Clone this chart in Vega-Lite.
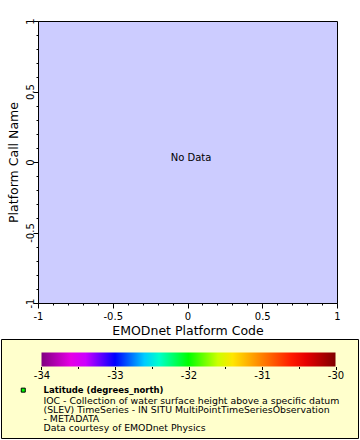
{
  "$schema": "https://vega.github.io/schema/vega-lite/v6.json",
  "background": "white",
  "padding": {"left": 0, "top": 17, "right": 0, "bottom": 0},
  "spacing": 1,
  "config": {
    "font": "DejaVu Sans",
    "view": {"stroke": "black", "strokeWidth": 1},
    "axis": {"labelColor": "black", "titleColor": "black", "tickColor": "black", "domainColor": "black", "grid": false, "titleFontWeight": "normal", "labelFont": "DejaVu Sans", "titleFont": "DejaVu Sans"}
  },
  "vconcat": [
    {
      "spacing": 1,
      "hconcat": [
        {
          "width": 4,
          "height": 10,
          "view": {"stroke": "transparent"},
          "data": {"values": [{"blank": ""}]},
          "mark": {"type": "text"},
          "encoding": {"text": {"field": "blank"}}
        },
        {
          "width": 299,
          "height": 282,
          "view": {"fill": "#ccccff", "stroke": "black"},
          "data": {"values": [{"code": 0, "name": 0, "note": "No Data"}]},
          "mark": {"type": "text", "fontSize": 10, "color": "black", "dx": 3.5, "dy": -4.5},
          "encoding": {
            "x": {
              "field": "code", "type": "quantitative",
              "scale": {"domain": [-1, 1], "nice": false, "zero": false},
              "axis": {
                "title": "EMODnet Platform Code", "titleFontSize": 12.5, "titlePadding": 3,
                "values": [-1, -0.9, -0.8, -0.7, -0.6, -0.5, -0.4, -0.3, -0.2, -0.1, 0, 0.1, 0.2, 0.3, 0.4, 0.5, 0.6, 0.7, 0.8, 0.9, 1],
                "labelExpr": "abs(datum.value*2 - round(datum.value*2)) < 0.001 ? toString(datum.value) : ''",
                "labelFontSize": 10, "labelPadding": 3, "labelFlush": false, "labelOverlap": false,
                "tickSize": {"condition": {"test": "abs(datum.value*2 - round(datum.value*2)) < 0.001", "value": 5}, "value": 2}
              }
            },
            "y": {
              "field": "name", "type": "quantitative",
              "scale": {"domain": [-1, 1], "nice": false, "zero": false},
              "axis": {
                "title": "Platform Call Name", "titleFontSize": 12.5, "titlePadding": 4.2,
                "values": [-1, -0.9, -0.8, -0.7, -0.6, -0.5, -0.4, -0.3, -0.2, -0.1, 0, 0.1, 0.2, 0.3, 0.4, 0.5, 0.6, 0.7, 0.8, 0.9, 1],
                "labelExpr": "abs(datum.value*2 - round(datum.value*2)) < 0.001 ? toString(datum.value) : ''",
                "labelAngle": -90, "labelAlign": "center", "labelBaseline": "alphabetic",
                "labelFontSize": 10, "labelPadding": 0, "labelFlush": false, "labelOverlap": false,
                "tickSize": {"condition": {"test": "abs(datum.value*2 - round(datum.value*2)) < 0.001", "value": 5}, "value": 2}
              }
            },
            "text": {"field": "note"}
          }
        }
      ]
    },
    {
      "width": 357,
      "height": 99,
      "view": {"fill": "#ffffcc", "stroke": "black"},
      "layer": [
        {
          "data": {"values": [{"lat": -34}, {"lat": -30}]},
          "mark": {"type": "point", "opacity": 0},
          "encoding": {
            "x": {
              "field": "lat", "type": "quantitative",
              "scale": {"domain": [-34.551, -29.694], "nice": false, "zero": false},
              "axis": {
                "orient": "bottom", "offset": -71.5, "domain": false, "title": null,
                "values": [-34, -33.5, -33, -32.5, -32, -31.5, -31, -30.5, -30],
                "labelExpr": "datum.value == round(datum.value) ? toString(datum.value) : ''",
                "labelFontSize": 10, "labelPadding": 1, "labelFlush": false, "labelOverlap": false,
                "tickSize": {"condition": {"test": "datum.value == round(datum.value)", "value": 3}, "value": 2}
              }
            },
            "color": {
              "field": "lat", "type": "quantitative",
              "scale": {
                "domain": [-34, -33.5, -33, -32.5, -32, -31.5, -31, -30.5, -30],
                "range": ["#800080", "#ff00ff", "#0000ff", "#00ffff", "#00ff00", "#ffff00", "#ff8000", "#ff0000", "#800000"],
                "interpolate": "rgb"
              },
              "legend": {
                "orient": "none", "legendX": 40.5, "legendY": 13.5, "direction": "horizontal",
                "gradientLength": 294, "gradientThickness": 14, "gradientStrokeWidth": 0,
                "labelExpr": "''", "title": null, "padding": 0
              }
            }
          }
        },
        {
          "data": {"values": [{"entry": "Latitude (degrees_north)"}]},
          "mark": {"type": "point", "opacity": 0, "filled": true, "shape": "square"},
          "encoding": {
            "fill": {
              "field": "entry", "type": "nominal",
              "scale": {"range": ["#00ff00"]},
              "legend": {
                "orient": "none", "legendX": 18, "legendY": 46.9, "direction": "vertical", "columns": 1,
                "title": null, "padding": 0, "symbolType": "square", "symbolSize": 16, "symbolStrokeWidth": 1,
                "symbolStrokeColor": "black", "symbolOpacity": 1,
                "labelOffset": 16, "labelLimit": 400, "labelFontSize": 8.5, "labelFontWeight": "bold", "labelColor": "black",
                "rowPadding": 0
              }
            }
          }
        },
        {
          "data": {"values": [{"source": "EMODnet"}]},
          "mark": {"type": "point", "opacity": 0},
          "encoding": {
            "shape": {
              "field": "source", "type": "nominal",
              "legend": {
                "orient": "none", "legendX": 42.5, "legendY": 57.5, "direction": "vertical", "columns": 1,
                "title": ["IOC - Collection of water surface height above a specific datum", "(SLEV) TimeSeries - IN SITU MultiPointTimeSeriesObservation", "- METADATA", "Data courtesy of EMODnet Physics"],
                "titleFontSize": 9.35, "titleFontWeight": "normal", "titleColor": "black", "titleLineHeight": 9.3,
                "titleLimit": 400, "titleAnchor": "start", "titleAlign": "left", "titlePadding": 0,
                "padding": 0, "symbolOpacity": 0, "labelExpr": "''"
              }
            }
          }
        }
      ]
    }
  ],
  "resolve": {"legend": {"color": "independent", "shape": "independent", "fill": "independent"}}
}
